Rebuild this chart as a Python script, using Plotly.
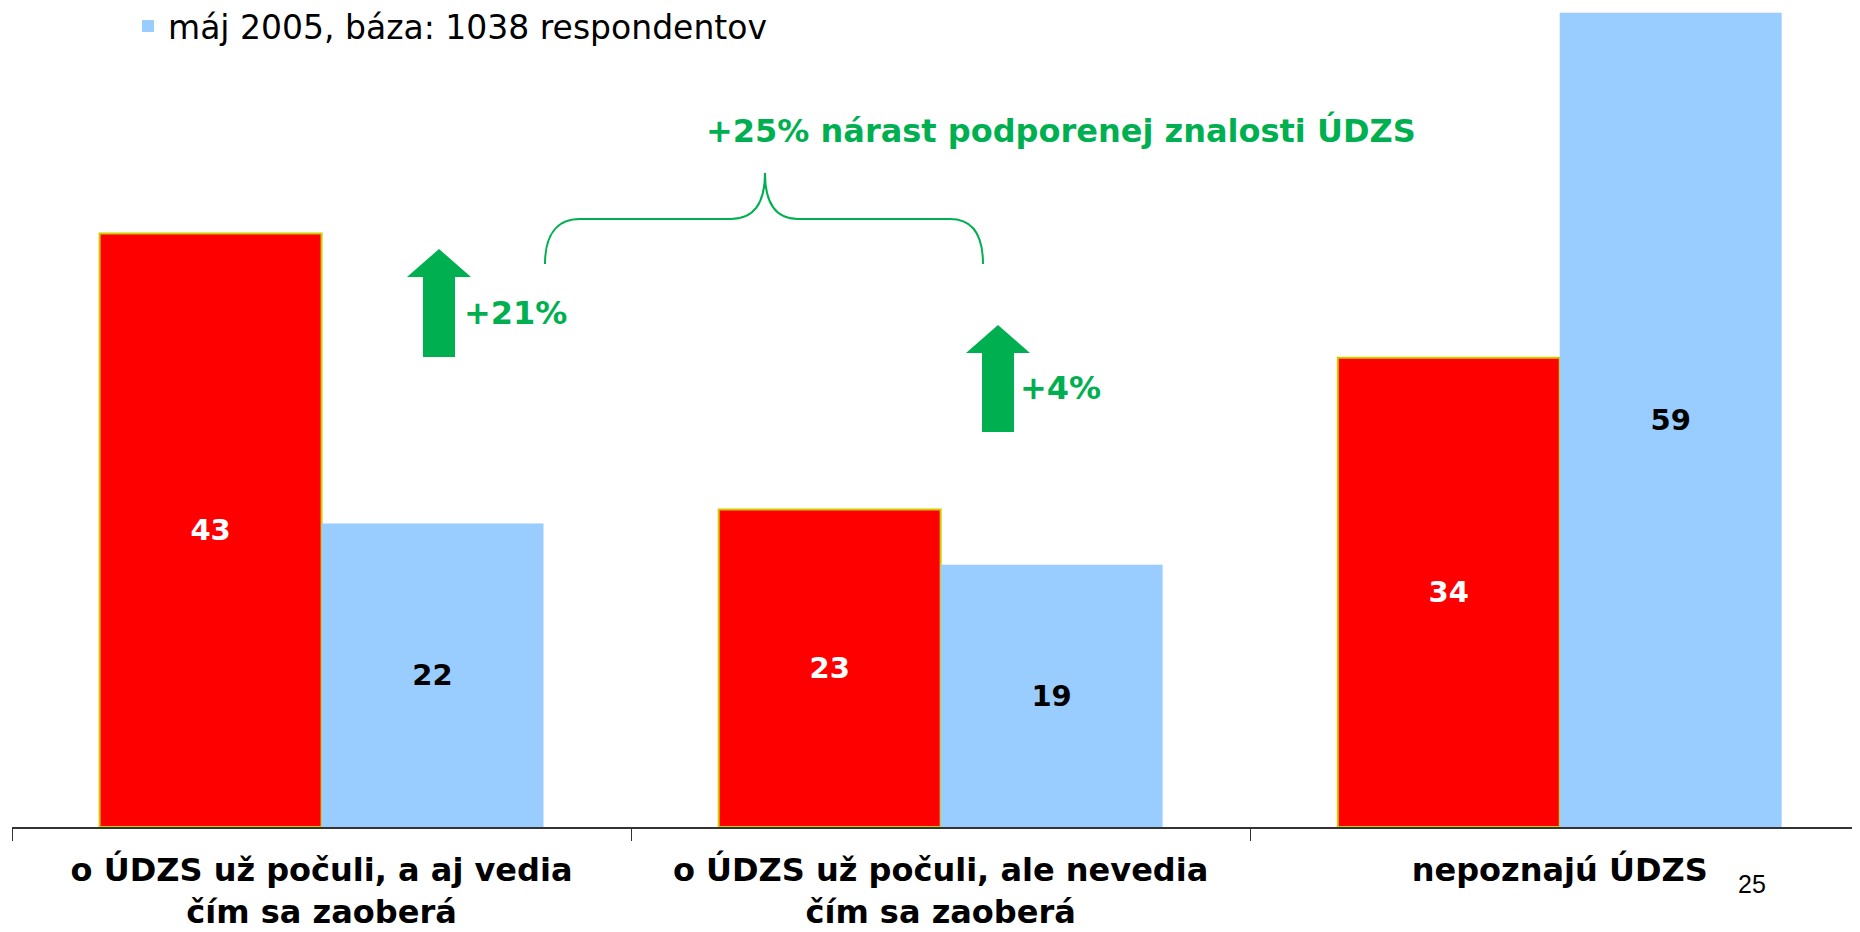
import plotly.graph_objects as go

# data
categories = ["o ÚDZS už počuli, a aj vedia<br>čím sa zaoberá",
              "o ÚDZS už počuli, ale nevedia<br>čím sa zaoberá",
              "nepoznajú ÚDZS"]
red_values = [43, 23, 34]
blue_values = [22, 19, 59]
red_name = "aktuálny prieskum"
blue_name = "máj 2005, báza: 1038 respondentov"
arrow_labels = ["+21%", "+4%"]
brace_label = "+25% nárast podporenej znalosti ÚDZS"
page_no = "25"

GREEN = "#00B050"
OFF = 8  # page body margin
W, H = 1852, 924
L, B = 4, 105
PW, PH = W - L, H - B


# screen pixel -> paper coords
def fx(px):
    return (px - OFF - L) / PW


def fy(py):
    return (PH - (py - OFF)) / PH


fig = go.Figure()

fig.add_trace(go.Bar(x=categories, y=red_values, name=red_name, showlegend=False,
                     marker=dict(color="#FF0000", line=dict(color="#CCCC00", width=2)),
                     text=red_values, textposition="inside", insidetextanchor="middle",
                     textangle=0,
                     textfont=dict(family="DejaVu Sans", size=29, color="white", weight="bold")))
fig.add_trace(go.Bar(x=categories, y=blue_values, name=blue_name,
                     marker=dict(color="#99CCFF", line=dict(width=0)),
                     text=blue_values, textposition="inside", insidetextanchor="middle",
                     textangle=0,
                     textfont=dict(family="DejaVu Sans", size=29, color="black", weight="bold")))

# green arrows
def arrow(cx, tip, bottom):
    hw, sw, hh = 32, 16, 28
    pts = [(cx, tip), (cx + hw, tip + hh), (cx + sw, tip + hh), (cx + sw, bottom),
           (cx - sw, bottom), (cx - sw, tip + hh), (cx - hw, tip + hh)]
    path = "M " + " L ".join(f"{fx(x):.5f},{fy(y):.5f}" for x, y in pts) + " Z"
    fig.add_shape(type="path", path=path, xref="paper", yref="paper",
                  fillcolor=GREEN, line=dict(width=0))

arrow(439, 249, 357)
arrow(998, 325, 432)

# curly brace
def P(x, y):
    return f"{fx(x):.5f},{fy(y):.5f}"

brace = (f"M {P(545,264)} C {P(545,236)} {P(556,219)} {P(580,219)} L {P(731,219)} "
         f"C {P(756,219)} {P(765,200)} {P(765,173)} C {P(765,200)} {P(774,219)} {P(798,219)} "
         f"L {P(950,219)} C {P(974,219)} {P(983,236)} {P(983,264)}")
fig.add_shape(type="path", path=brace, xref="paper", yref="paper",
              line=dict(color=GREEN, width=2))

ann_font = dict(family="DejaVu Sans", size=32, color=GREEN, weight="bold")
fig.add_annotation(x=fx(462), y=fy(313), xref="paper", yref="paper", text=arrow_labels[0],
                   showarrow=False, xanchor="left", yanchor="middle", font=ann_font)
fig.add_annotation(x=fx(1018), y=fy(388), xref="paper", yref="paper", text=arrow_labels[1],
                   showarrow=False, xanchor="left", yanchor="middle", font=ann_font)
fig.add_annotation(x=fx(1061), y=fy(130), xref="paper", yref="paper", text=brace_label,
                   showarrow=False, xanchor="center", yanchor="middle", font=ann_font)
fig.add_annotation(x=fx(1752), y=fy(884), xref="paper", yref="paper", text=page_no,
                   showarrow=False, xanchor="center", yanchor="middle",
                   font=dict(family="Liberation Sans", size=25, color="black"))

fig.update_layout(template="none", width=W, height=H, barmode="group",
                  bargap=0.283, bargroupgap=0,
                  margin=dict(l=L, r=0, t=0, b=B, autoexpand=False),
                  paper_bgcolor="white", plot_bgcolor="white",
                  showlegend=True,
                  legend=dict(x=fx(128), y=1.012, xanchor="left", yanchor="top",
                              bgcolor="rgba(0,0,0,0)",
                              font=dict(family="DejaVu Sans", size=33, color="black")))

fig.update_xaxes(range=[-0.5, 2.485], showline=True, linecolor="#333333", linewidth=2,
                 ticks="outside", tickson="boundaries", ticklen=12, tickcolor="#333333",
                 tickwidth=1, showgrid=False, automargin=False, ticklabelstandoff=14,
                 tickfont=dict(family="DejaVu Sans", size=32, color="black", weight="bold"))
fig.update_yaxes(range=[0, 59.35], visible=False, showgrid=False, zeroline=False)

fig.write_html("out.html")
